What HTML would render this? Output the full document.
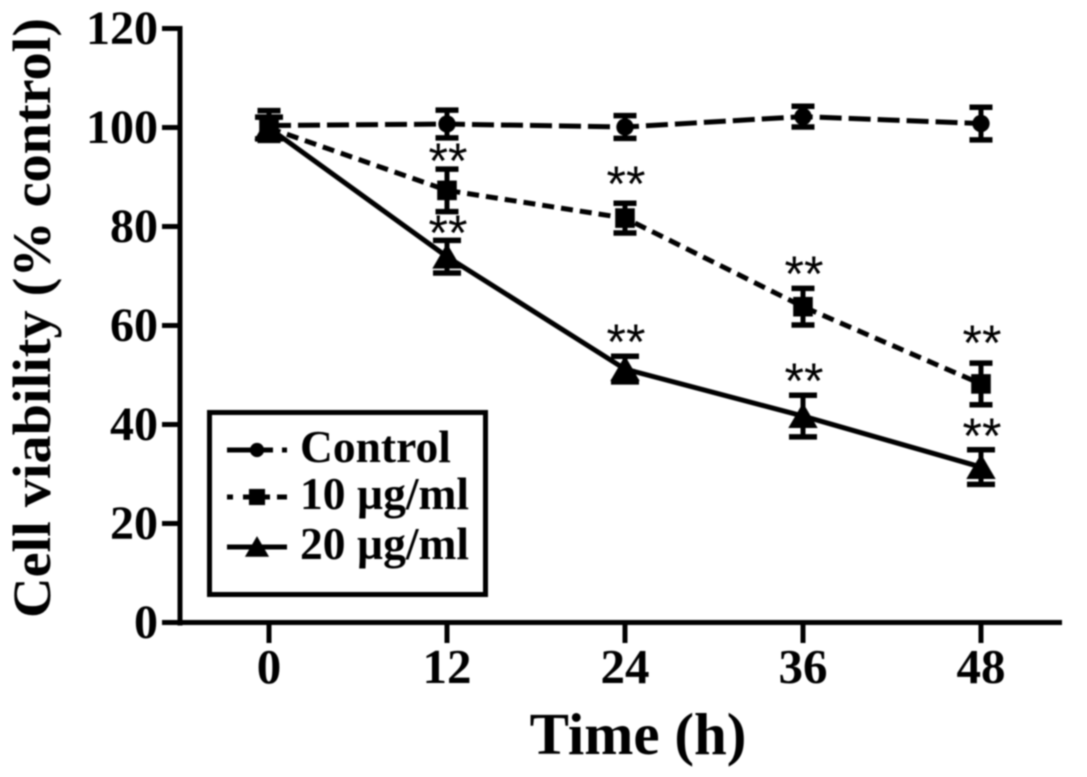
<!DOCTYPE html>
<html>
<head>
<meta charset="utf-8">
<style>
html,body{margin:0;padding:0;background:#fff;width:1087px;height:777px;overflow:hidden}
svg{display:block;filter:blur(0.7px)}
text{font-family:"Liberation Serif",serif;font-weight:bold;fill:#000}
</style>
</head>
<body>
<svg id="chart" width="1087" height="777" viewBox="0 0 1087 777" xmlns="http://www.w3.org/2000/svg"></svg>
<script>
const timePoints = [0, 12, 24, 36, 48];
const yTickLabels = [0, 20, 40, 60, 80, 100, 120];
const controlValues = [100.5, 100.8, 100.2, 102.3, 100.9];
const controlErrors = [3, 2.8, 2.3, 2.1, 3.3];
const tenValues = [100, 87.4, 81.8, 63.9, 48.3];
const tenErrors = [2.2, 4.3, 3, 3.7, 4.2];
const twentyValues = [100, 74, 51.3, 41.8, 31.5];
const twentyErrors = [2.2, 3.3, 2.6, 4.2, 3.5];
const tenSignificance = ['', '**', '**', '**', '**'];
const twentySignificance = ['', '**', '**', '**', '**'];
const tenStarLevels = [0, 94.5, 89.9, 71.7, 57.8];
const twentyStarLevels = [0, 80, 58, 50.1, 39];

const NS = 'http://www.w3.org/2000/svg';
const svg = document.getElementById('chart');
function xScale(t) { return 269 + t * 14.833; }
function yScale(v) { return 623 - v * 4.95; }
function make(tag, attrs, parent) {
  const el = document.createElementNS(NS, tag);
  for (const k in attrs) el.setAttribute(k, attrs[k]);
  (parent || svg).appendChild(el);
  return el;
}
function line(x1, y1, x2, y2, w, parent) {
  return make('line', { x1: x1, y1: y1, x2: x2, y2: y2, stroke: '#000', 'stroke-width': w }, parent);
}
function marker(kind, x, y, parent, s) {
  if (kind === 'circle') return make('circle', { cx: x, cy: y, r: s * 0.62, fill: '#000' }, parent);
  if (kind === 'square') return make('rect', { x: x - s * 0.7, y: y - s * 0.7, width: s * 1.4, height: s * 1.4, fill: '#000' }, parent);
  return make('polygon', { points: (x) + ',' + (y - s * 0.95) + ' ' + (x + s * 1.05) + ',' + (y + s * 0.85) + ' ' + (x - s * 1.05) + ',' + (y + s * 0.85), fill: '#000' }, parent);
}

const yAxis = make('g', {});


line(180, yScale(120) - 3, 180, yScale(0) + 2.5, 5, yAxis);
yTickLabels.forEach(function (v) {
  const tick = line(162, yScale(v) - 0.5, 182, yScale(v) - 0.5, 5, yAxis);
  
  
  const label = make('text', { x: 158, y: yScale(v) + 15, 'text-anchor': 'end', 'font-size': 48 }, yAxis);
  label.textContent = v;
  
  
});

const xAxis = make('g', {});


line(162, yScale(0) - 0.5, 1062, yScale(0) - 0.5, 5, xAxis);
timePoints.forEach(function (t) {
  const tick = line(xScale(t), yScale(0), xScale(t), 643, 5, xAxis);
  
  
  const label = make('text', { x: xScale(t), y: 683, 'text-anchor': 'middle', 'font-size': 49 }, xAxis);
  label.textContent = t;
  
  
});

const yTitle = make('text', { transform: 'translate(50,318) rotate(-90)', 'text-anchor': 'middle', 'font-size': 54, textLength: 600, lengthAdjust: 'spacingAndGlyphs' });
yTitle.textContent = 'Cell viability (% control)';



const xTitle = make('text', { x: 638, y: 754, 'text-anchor': 'middle', 'font-size': 59 });
xTitle.textContent = 'Time (h)';



function drawSeries(name, values, errors, dash, kind, size, capW) {
  const g = make('g', {});
  
  
  const pts = values.map(function (v, i) { return xScale(timePoints[i]) + ',' + yScale(v); }).join(' ');
  const attrs = { points: pts, fill: 'none', stroke: '#000', 'stroke-width': 5 };
  if (dash) attrs['stroke-dasharray'] = dash;
  const path = make('polyline', attrs, g);
  
  
  values.forEach(function (v, i) {
    const x = xScale(timePoints[i]);
    const y = yScale(v);
    const top = yScale(v + errors[i]);
    const bottom = yScale(v - errors[i]);
    const bar = make('g', {}, g);
    
    
    line(x, top, x, bottom, 5, bar);
    line(x - capW, top, x + capW, top, 5.5, bar);
    line(x - capW, bottom, x + capW, bottom, 5.5, bar);
    const m = marker(kind, x, y, g, size);
    
    
  });
}
drawSeries('control', controlValues, controlErrors, '22 7', 'circle', 14, 11.5);
drawSeries('ten-ug', tenValues, tenErrors, '12 7', 'square', 14, 11.5);
drawSeries('twenty-ug', twentyValues, twentyErrors, '', 'triangle', 14, 14);

function drawStars(name, labels, levels) {
  labels.forEach(function (s, i) {
    if (!s) return;
    const star = make('text', { x: xScale(timePoints[i]) + 1, y: yScale(levels[i]) + 23, 'text-anchor': 'middle', 'font-size': 50 });
    star.style.fontFamily = '"Liberation Sans", sans-serif';
    star.style.fontWeight = 'normal';
    star.textContent = s;
    
    
  });
}
drawStars('ten-ug', tenSignificance, tenStarLevels);
drawStars('twenty-ug', twentySignificance, twentyStarLevels);

const legend = make('g', {});


make('rect', { x: 209.5, y: 412.5, width: 276, height: 182, fill: '#fff', stroke: '#000', 'stroke-width': 5 }, legend);
const legendLabels = ['Control', '10 µg/ml', '20 µg/ml'];
const legendDashes = ['46 9 5 99', '6 10 27 7 11 99', ''];
const legendKinds = ['circle', 'square', 'triangle'];
const legendRows = [450, 497, 547];
legendLabels.forEach(function (text, i) {
  const row = make('g', {}, legend);
  
  
  const l = make('line', { x1: 227, y1: legendRows[i], x2: 287, y2: legendRows[i], stroke: '#000', 'stroke-width': 5 }, row);
  if (legendDashes[i]) l.setAttribute('stroke-dasharray', legendDashes[i]);
  marker(legendKinds[i], 257, legendRows[i], row, 11.5);
  const label = make('text', { x: 300, y: legendRows[i] + 12, 'font-size': 45.5 }, row);
  label.textContent = text;
});
</script>
</body>
</html>
